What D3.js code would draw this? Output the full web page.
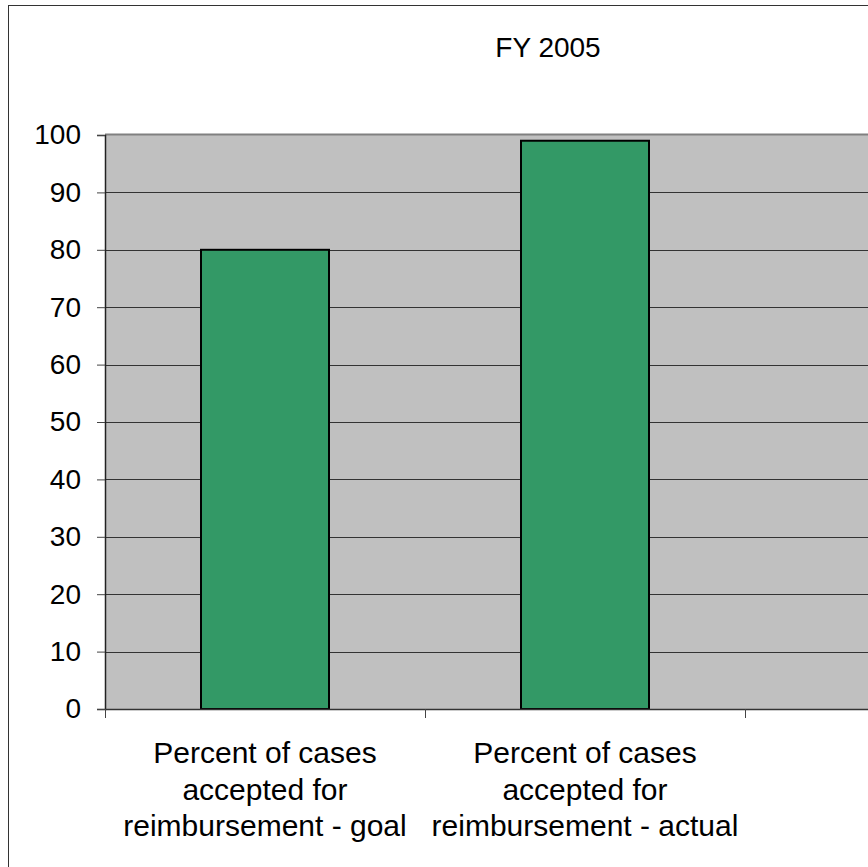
<!DOCTYPE html>
<html>
<head>
<meta charset="utf-8">
<script src="https://cdn.jsdelivr.net/npm/d3@7"></script>
<style>
  html, body { margin: 0; padding: 0; background: #fff; overflow: hidden; }
  svg { display: block; font-family: Arial, "Liberation Sans", sans-serif; }
</style>
</head>
<body>
<script>
const title = "FY 2005";
const categories = ["goal", "actual", ""];
const categoryLabels = [
  ["Percent of cases", "accepted for", "reimbursement - goal"],
  ["Percent of cases", "accepted for", "reimbursement - actual"],
  []
];
const values = [80, 99, null];
const yTicks = [0, 10, 20, 30, 40, 50, 60, 70, 80, 90, 100];

(function () {
const W = 868, H = 867;
const svg = d3.select("body").append("svg").attr("width", W).attr("height", H);

// outer chart border (cut off at right/bottom)
svg.append("rect").attr("x", 8.5).attr("y", 5.5).attr("width", 1200).attr("height", 1200)
  .attr("fill", "#fff").attr("stroke", "#333").attr("stroke-width", 1);

const pLeft = 105, pTop = 135, pBottom = 709, pRight = 1065;
const x = d3.scaleBand().domain(categories).range([pLeft, pRight]).padding(0);
const y = d3.scaleLinear().domain([0, 100]).range([pBottom, pTop]);

// plot area
svg.append("rect").attr("x", pLeft).attr("y", pTop).attr("width", pRight - pLeft).attr("height", pBottom - pTop)
  .attr("fill", "#c0c0c0");

// gridlines
svg.append("g").selectAll("line").data(yTicks.filter(d => d > 0 && d < 100)).join("line")
  .attr("x1", pLeft).attr("x2", pRight)
  .attr("y1", d => Math.round(y(d)) + 0.5).attr("y2", d => Math.round(y(d)) + 0.5)
  .attr("stroke", "#333").attr("stroke-width", 1);
// top border of plot
svg.append("line").attr("x1", pLeft).attr("x2", pRight).attr("y1", pTop - 0.5).attr("y2", pTop - 0.5)
  .attr("stroke", "#808080").attr("stroke-width", 2);

// bars
const bw = x.bandwidth() * 0.4;
svg.append("g").selectAll("rect").data(categories.map((c, i) => ({c, v: values[i]})).filter(d => d.v != null))
  .join("rect")
  .attr("x", d => x(d.c) + (x.bandwidth() - bw) / 2)
  .attr("y", d => y(d.v))
  .attr("width", bw)
  .attr("height", d => y(0) - y(d.v))
  .attr("fill", "#339966").attr("stroke", "#000").attr("stroke-width", 2);

// y axis
const yAxis = svg.append("g").attr("transform", `translate(${pLeft},0)`)
  .call(d3.axisLeft(y).tickValues(yTicks).tickSize(8).tickPadding(16).tickFormat(d3.format("d")));
yAxis.select(".domain").attr("stroke", "#222").attr("stroke-width", 1.5);
yAxis.selectAll(".tick line").attr("stroke", "#444");
yAxis.selectAll("text").attr("font-size", 28).attr("fill", "#000").attr("font-family", "Arial, 'Liberation Sans', sans-serif");

// x axis
const xAxis = svg.append("g").attr("transform", `translate(0,${pBottom})`);
xAxis.append("line").attr("x1", pLeft).attr("x2", pRight).attr("y1", 0.5).attr("y2", 0.5)
  .attr("stroke", "#333").attr("stroke-width", 1.5);
const tickPos = categories.map(c => x(c)).concat([x(categories[categories.length - 1]) + x.bandwidth()]);
xAxis.selectAll("line.tk").data(tickPos).join("line").attr("class", "tk")
  .attr("x1", d => Math.round(d) + 0.5).attr("x2", d => Math.round(d) + 0.5)
  .attr("y1", 0).attr("y2", 9).attr("stroke", "#444");

// category labels
categories.forEach((c, i) => {
  const lines = categoryLabels[i];
  const t = svg.append("text").attr("text-anchor", "middle").attr("font-size", 30).attr("fill", "#000");
  lines.forEach((ln, j) => {
    t.append("tspan").attr("x", x(c) + x.bandwidth() / 2).attr("y", 763 + j * 36.5).text(ln);
  });
});

// title
svg.append("text").attr("x", 548).attr("y", 57).attr("text-anchor", "middle")
  .attr("font-size", 28).attr("fill", "#000").text(title);
})();
</script>
</body>
</html>
